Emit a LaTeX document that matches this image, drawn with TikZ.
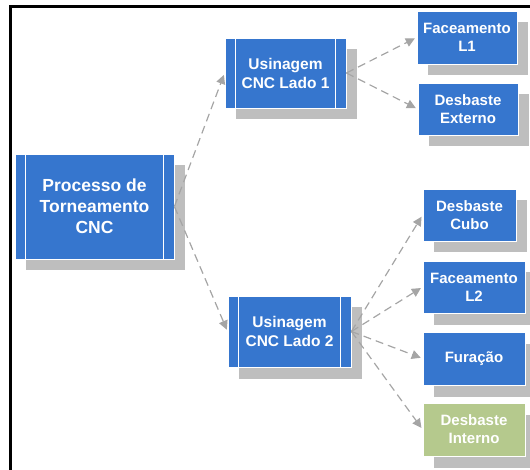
\documentclass[tikz,border=0pt]{standalone}
\usepackage{fontspec}
\setmainfont{Liberation Sans}
\usetikzlibrary{shadows,arrows.meta}
\definecolor{boxblue}{RGB}{54,118,206}
\definecolor{boxgreen}{RGB}{181,201,141}
\definecolor{shadowgray}{RGB}{190,190,190}
\definecolor{arrowgray}{RGB}{165,165,165}
\tikzset{
  basebox/.style={draw=white, line width=0.8pt, fill=boxblue, text=white,
    font=\bfseries, align=center, inner sep=0pt,
    general shadow={fill=shadowgray, shadow xshift=11pt, shadow yshift=-11.5pt}},
  barbox/.style={basebox, path picture={
      \draw[white, line width=0.8pt] ([xshift=10pt]path picture bounding box.north west) -- ([xshift=10pt]path picture bounding box.south west);
      \draw[white, line width=0.8pt] ([xshift=-10.5pt]path picture bounding box.north east) -- ([xshift=-10.5pt]path picture bounding box.south east);}},
  leaf/.style={basebox, font=\bfseries\fontsize{15}{18}\selectfont},
  mid/.style={barbox, font=\bfseries\fontsize{15.5}{19}\selectfont},
  link/.style={draw=arrowgray, line width=1.2pt, dash pattern=on 8pt off 5pt,
    -{Triangle[length=9pt,width=9pt,fill=arrowgray]}, shorten >=2pt}
}
\begin{document}
\begin{tikzpicture}[x=1pt,y=-1pt]
\useasboundingbox (0,0) rectangle (530,470);
\draw[line width=3pt] (10.5,470) -- (10.5,6.5) -- (530,6.5);
\node[barbox, font=\bfseries\fontsize{17.5}{21}\selectfont, minimum width=159pt, minimum height=105pt] (main) at (94.5,206.5) {Processo de\\Torneamento\\CNC};
\node[mid, minimum width=121pt, minimum height=70pt] (u1) at (285.5,73) {Usinagem\\CNC Lado 1};
\node[mid, minimum width=123pt, minimum height=71pt] (u2) at (289.5,331.5) {Usinagem\\CNC Lado 2};
\node[leaf, minimum width=100pt, minimum height=53pt] (f1) at (467,37.5) {Faceamento\\L1};
\node[leaf, minimum width=100pt, minimum height=52pt] (de) at (468,109) {Desbaste\\Externo};
\node[leaf, minimum width=93pt, minimum height=52pt] (dc) at (469.5,215) {Desbaste\\Cubo};
\node[leaf, minimum width=102pt, minimum height=52pt] (f2) at (474,287) {Faceamento\\L2};
\node[leaf, minimum width=102pt, minimum height=53pt] (fu) at (474,358.5) {Furação};
\node[leaf, fill=boxgreen, minimum width=102pt, minimum height=53pt] (di) at (474,429.5) {Desbaste\\Interno};
\draw[link] (main.east) -- (u1.west);
\draw[link] (main.east) -- (u2.west);
\draw[link] (u1.east) -- (f1.west);
\draw[link] (u1.east) -- (de.west);
\draw[link] (u2.east) -- (dc.west);
\draw[link] (u2.east) -- (f2.west);
\draw[link] (u2.east) -- (fu.west);
\draw[link] (u2.east) -- (di.west);
\end{tikzpicture}
\end{document}
